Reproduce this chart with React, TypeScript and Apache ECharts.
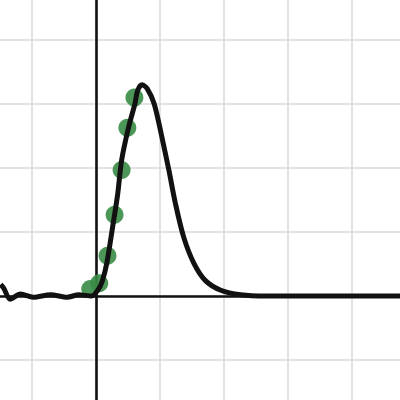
import { useEffect, useRef } from "react";
import * as echarts from "echarts";

// curve, [x, y] in grid units
const curveX = [
  -1.49, -1.44, -1.34, -1.18, -0.98, -0.71, -0.45, -0.27, -0.07, 0.04, 0.1, 0.17, 0.26,
  0.34, 0.4, 0.51, 0.61, 0.65, 0.72, 0.8, 0.91, 1.03, 1.14, 1.24, 1.37, 1.53, 1.71, 1.95,
  2.26, 2.65, 4.8,
];
const curveY = [
  0.18, 0.12, -0.05, 0.03, -0.02, 0.02, -0.02, 0.02, 0.0, 0.11, 0.24, 0.52, 1.08, 1.6,
  2.12, 2.64, 3.01, 3.21, 3.3, 3.24, 3.0, 2.48, 1.96, 1.45, 0.92, 0.51, 0.24, 0.09, 0.02,
  0, 0,
];

// green sample points
const pointX = [-0.09, 0.05, 0.18, 0.29, 0.4, 0.49, 0.6];
const pointY = [0.11, 0.2, 0.63, 1.27, 1.97, 2.63, 3.1];

const axisMin = -2;
const axisMax = 5;

export default function App() {
  const ref = useRef<HTMLDivElement | null>(null);

  useEffect(() => {
    document.body.style.margin = "0";
    if (!ref.current) return;
    const chart = echarts.init(ref.current, undefined, { renderer: "svg" });

    const plainAxis = {
      type: "value" as const,
      min: axisMin,
      max: axisMax,
      interval: 1,
      axisLine: { onZero: true, lineStyle: { color: "#111", width: 2.6 } },
      axisTick: { show: false },
      axisLabel: { show: false },
      splitLine: { lineStyle: { color: "#dadada", width: 1.5 } },
    };

    chart.setOption({
      animation: false,
      backgroundColor: "#fff",
      grid: { left: 0, right: 0, top: 0, bottom: 0 },
      xAxis: plainAxis,
      yAxis: plainAxis,
      series: [
        {
          type: "scatter",
          data: pointX.map((x, i) => [x, pointY[i]]),
          symbolSize: 18,
          itemStyle: { color: "#388c46", opacity: 0.9 },
          z: 2,
        },
        {
          type: "line",
          data: curveX.map((x, i) => [x, curveY[i]]),
          showSymbol: false,
          smooth: 0.3,
          lineStyle: { color: "#111", width: 5 },
          z: 3,
        },
      ],
    });

    return () => chart.dispose();
  }, []);

  // the plot is larger than the window and shifted so the origin sits at (95.5, 295.5)
  return (
    <div style={{ position: "relative", width: 400, height: 400, overflow: "hidden" }}>
      <div
        ref={ref}
        style={{ position: "absolute", left: -32.5, top: -24.5, width: 448, height: 448 }}
      />
    </div>
  );
}
